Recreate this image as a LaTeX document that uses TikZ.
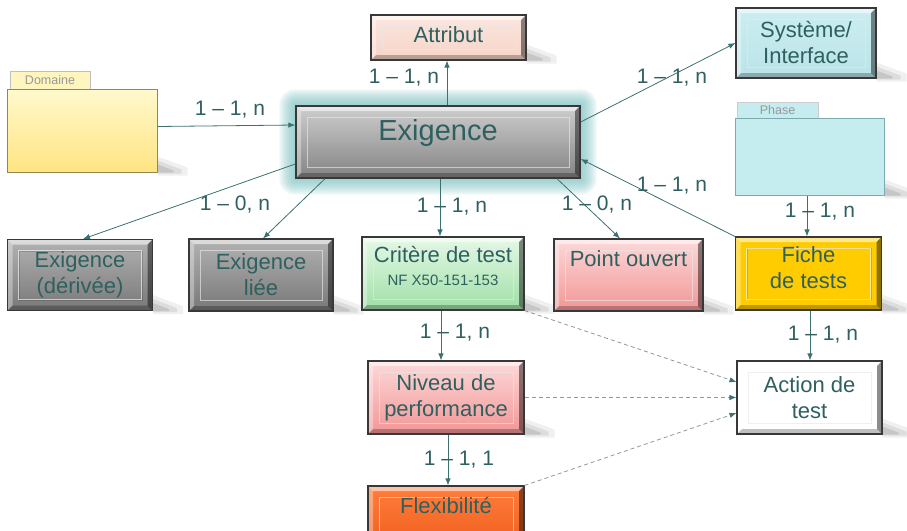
\documentclass[tikz,border=0pt]{standalone}
\usepackage{fontspec}
\setmainfont{Liberation Sans}
\usetikzlibrary{arrows.meta,backgrounds,calc}
\definecolor{tx}{RGB}{47,96,96}
\definecolor{ln}{RGB}{62,112,112}
\definecolor{dsh}{RGB}{145,152,152}
\definecolor{glowc}{RGB}{110,185,185}
\definecolor{domtabc}{RGB}{255,245,190}
\definecolor{domline}{RGB}{150,135,80}
\definecolor{domtop}{RGB}{255,249,205}
\definecolor{dombot}{RGB}{255,228,130}
\definecolor{phasec}{RGB}{197,236,239}
\definecolor{phaseline}{RGB}{125,170,175}
\definecolor{attrtop}{RGB}{252,230,222}
\definecolor{attrbot}{RGB}{246,212,200}
\definecolor{extop}{RGB}{205,205,205}
\definecolor{exbot}{RGB}{132,132,132}
\definecolor{systop}{RGB}{204,237,240}
\definecolor{sysbot}{RGB}{186,228,232}
\definecolor{grtop}{RGB}{178,178,178}
\definecolor{grbot}{RGB}{120,120,120}
\definecolor{crtop}{RGB}{228,249,230}
\definecolor{crbot}{RGB}{160,222,166}
\definecolor{pktop}{RGB}{253,216,216}
\definecolor{pkbot}{RGB}{242,150,150}
\definecolor{gold}{RGB}{255,204,0}
\definecolor{ortop}{RGB}{255,125,60}
\definecolor{orbot}{RGB}{240,96,30}
\newcommand\bxshadow[1]{%
 \fill[black,opacity=.06] ([yshift=16pt]#1.south east) -- ([xshift=30pt,yshift=5pt]#1.south east) -- ([xshift=30pt,yshift=-3pt]#1.south east) -- ([yshift=-3pt]#1.south east) -- cycle;
 \fill[black,opacity=.08] ([yshift=12pt]#1.south east) -- ([xshift=24pt,yshift=3pt]#1.south east) -- ([xshift=24pt,yshift=-1pt]#1.south east) -- ([yshift=-1pt]#1.south east) -- cycle;
 \fill[black,opacity=.1] ([yshift=8pt]#1.south east) -- ([xshift=16pt,yshift=2pt]#1.south east) -- ([xshift=16pt,yshift=0pt]#1.south east) -- ([yshift=0pt]#1.south east) -- cycle;}
\tikzset{
 bev/.style={rectangle, draw=black!78, line width=1.1pt, inner sep=2pt, text=tx, align=center,
  font=\fontsize{22}{26}\selectfont,
  path picture={
   \coordinate (bnw) at (path picture bounding box.north west);
   \coordinate (bse) at (path picture bounding box.south east);
   \coordinate (bne) at (path picture bounding box.north east);
   \coordinate (bsw) at (path picture bounding box.south west);
   \fill[white,opacity=.55] (bnw) -- (bne) -- ([shift={(-5pt,-5pt)}]bne) -- ([shift={(5pt,-5pt)}]bnw) -- cycle;
   \fill[white,opacity=.35] (bnw) -- (bsw) -- ([shift={(5pt,5pt)}]bsw) -- ([shift={(5pt,-5pt)}]bnw) -- cycle;
   \fill[black,opacity=.25] (bsw) -- (bse) -- ([shift={(-5pt,5pt)}]bse) -- ([shift={(5pt,5pt)}]bsw) -- cycle;
   \fill[black,opacity=.45] (bne) -- (bse) -- ([shift={(-5pt,5pt)}]bse) -- ([shift={(-5pt,-5pt)}]bne) -- cycle;
   \draw[black,opacity=.15,line width=.6pt] ([shift={(11.5pt,-11.5pt)}]bnw) rectangle ([shift={(-10.5pt,10.5pt)}]bse);
   \draw[white,opacity=.6,line width=.7pt] ([shift={(11pt,-11pt)}]bnw) rectangle ([shift={(-11pt,11pt)}]bse);
  }},
 foldbody/.style={rectangle, draw=#1, line width=1pt, inner sep=0pt},
 foldtab/.style={rectangle, draw=#1, line width=.6pt, inner sep=0pt, text=black!40,
  font=\fontsize{12.5}{14}\selectfont},
 conn/.style={draw=ln, line width=.8pt, -{Latex[length=7pt,width=5.5pt]}},
 dconn/.style={draw=dsh, line width=.8pt, dash pattern=on 4pt off 3pt, -{Latex[length=7pt,width=5.5pt,color=ln]}},
 lbl/.style={text=tx, font=\fontsize{21}{24}\selectfont, inner sep=0pt},
}
\begin{document}
\begin{tikzpicture}[x=1pt,y=-1pt]
\useasboundingbox (0,0) rectangle (907,530);

% folders
\node[foldtab=black!25, fill=domtabc, minimum width=80pt, minimum height=18pt] (domtab) at (50,80) {Domaine};
\node[foldbody=domline, top color=domtop, bottom color=dombot, minimum width=150pt, minimum height=83pt] (dom) at (82,130.5) {};
\node[foldtab=black!20, fill=phasec, minimum width=81pt, minimum height=16pt] (phasetab) at (777.5,110) {Phase};
\node[foldbody=phaseline, fill=phasec, minimum width=149pt, minimum height=77pt] (phase) at (809.5,156.5) {};

% boxes
\node[bev, top color=attrtop, bottom color=attrbot, minimum width=155pt, minimum height=45pt, text depth=6pt] (attr) at (448.5,37.5) {Attribut};
\node[bev, line width=1.4pt, top color=extop, bottom color=exbot, minimum width=284pt, minimum height=72pt, font=\fontsize{29}{32}\selectfont, text depth=24pt] (exig) at (438,142) {Exigence};
\node[bev, top color=systop, bottom color=sysbot, minimum width=140pt, minimum height=70pt] (sys) at (806,43) {Système/\\Interface};
\node[bev, top color=grtop, bottom color=grbot, minimum width=145pt, minimum height=71pt] (der) at (80,275) {Exigence\\(dérivée)};
\node[bev, top color=grtop, bottom color=grbot, minimum width=144pt, minimum height=72pt] (liee) at (261,275) {Exigence\\liée};
\node[bev, top color=crtop, bottom color=crbot, minimum width=162pt, minimum height=73pt, text depth=16pt] (crit) at (443,273.5) {Critère de test\\[-3pt]{\fontsize{15}{17}\selectfont NF X50-151-153}};
\node[bev, top color=pktop, bottom color=pkbot, minimum width=149pt, minimum height=72pt, text depth=32pt] (point) at (628.5,275) {Point ouvert};
\node[bev, fill=gold, minimum width=146pt, minimum height=73pt, text depth=12pt] (fiche) at (808.5,273.5) {Fiche\\de tests};
\node[bev, top color=pktop, bottom color=pkbot, minimum width=156pt, minimum height=73pt] (niv) at (446,397.5) {Niveau de\\performance};
\node[bev, fill=white, minimum width=145pt, minimum height=73pt] (action) at (809.5,397.5) {Action de\\test};
\node[bev, top color=ortop, bottom color=orbot, minimum width=156pt, minimum height=59pt, text depth=21pt] (flex) at (446,515.5) {Flexibilité};

% glow and shadows
\begin{scope}[on background layer]
 \foreach \k in {16,14,...,2}
  \fill[glowc,opacity=.12,rounded corners=\k pt] ([shift={(-\k pt,\k pt)}]exig.north west) rectangle ([shift={(\k pt,-\k pt)}]exig.south east);
 \foreach \b in {dom,phase,attr,sys,der,liee,crit,point,fiche,niv,action,flex}
  {\bxshadow{\b}}
\end{scope}

% connectors
\draw[conn] ([yshift=4pt]dom.east) -- ([yshift=17pt]exig.west);
\draw[conn] ([xshift=9pt]exig.north) -- ([xshift=-1.5pt]attr.south);
\draw[conn] ([yshift=20pt]exig.east) -- (sys.west);
\draw[conn] (fiche.north west) -- ([yshift=-17pt]exig.east);
\draw[conn] ([xshift=-2.5pt]phase.south) -- ([xshift=-1.5pt]fiche.north);
\draw[conn] ([xshift=2pt]exig.south) -- ([xshift=-3pt]crit.north);
\draw[conn] ([xshift=-113pt]exig.south) -- ([xshift=2pt]liee.north);
\draw[conn] ([yshift=-22pt]exig.west) -- ([xshift=3pt]der.north);
\draw[conn] ([xshift=119pt]exig.south) -- ([xshift=-8.5pt]point.north);
\draw[conn] ([xshift=-2pt]crit.south) -- ([xshift=-5pt]niv.north);
\draw[conn] ([xshift=2pt]niv.south) -- ([xshift=2pt]flex.north);
\draw[conn] ([xshift=1.5pt]fiche.south) -- ([xshift=.5pt]action.north);
\draw[dconn] (crit.south east) -- ([yshift=15.5pt]action.west);
\draw[dconn] (niv.east) -- (action.west);
\draw[dconn] (flex.north east) -- ([yshift=-15.5pt]action.west);

% labels
\node[lbl] (l1) at (230,110) {1 – 1, n};
\node[lbl] (l2) at (404,78) {1 – 1, n};
\node[lbl] (l3) at (672,78) {1 – 1, n};
\node[lbl] (l4) at (672,186) {1 – 1, n};
\node[lbl] (l5) at (820,212) {1 – 1, n};
\node[lbl] (l6) at (452,207) {1 – 1, n};
\node[lbl] (l7) at (235,205) {1 – 0, n};
\node[lbl] (l8) at (597,205) {1 – 0, n};
\node[lbl] (l9) at (455,333) {1 – 1, n};
\node[lbl] (l10) at (459,460) {1 – 1, 1};
\node[lbl] (l11) at (823,335) {1 – 1, n};
\end{tikzpicture}
\end{document}
